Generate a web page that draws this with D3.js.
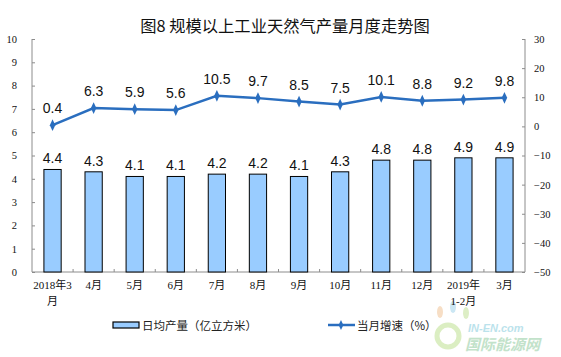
<!DOCTYPE html>
<html><head><meta charset="utf-8">
<script src="https://cdn.jsdelivr.net/npm/d3@7"></script>
<style>body{margin:0;background:#fff}svg{display:block}</style>
</head><body>
<svg id="c" width="561" height="357"></svg>
<script>
const categories = ["2018年3\n月","4月","5月","6月","7月","8月","9月","10月","11月","12月","2019年\n1-2月","3月"];
const dailyOutput = [4.4,4.3,4.1,4.1,4.2,4.2,4.1,4.3,4.8,4.8,4.9,4.9];
const growth = [0.4,6.3,5.9,5.6,10.5,9.7,8.5,7.5,10.1,8.8,9.2,9.8];
const leftTicks = [0,1,2,3,4,5,6,7,8,9,10];
const rightTicks = [-50,-40,-30,-20,-10,0,10,20,30];
const title = "图8\u00a0规模以上工业天然气产量月度走势图";
const legendBar = "日均产量（亿立方米）";
const legendLine = "当月增速（%）";

const svg = d3.select("#c");
const L = 32, R = 525, T = 39, B = 272;
const x = d3.scaleBand().domain(categories).range([L, R]).padding(0);
const yL = d3.scaleLinear().domain([0,10]).range([B, T]);
const yR = d3.scaleLinear().domain([-50,30]).range([B, T]);
const axisColor = "#8c8c8c";
const serif = "'Liberation Serif','Noto Sans CJK SC',serif";

// watermark (drawn first, underneath)
const wm = svg.append("g").attr("opacity",0.6);
wm.append("circle").attr("cx",448).attr("cy",336).attr("r",11).attr("fill","none").attr("stroke","#c4e39a").attr("stroke-width",5);
wm.append("ellipse").attr("cx",440).attr("cy",312).attr("rx",3).attr("ry",6).attr("fill","#f2c9a0");
wm.append("ellipse").attr("cx",453).attr("cy",307).attr("rx",3).attr("ry",6).attr("fill","#a9d8ee");
wm.append("ellipse").attr("cx",466).attr("cy",313).attr("rx",3).attr("ry",6).attr("fill","#c8e4a0");
wm.append("text").attr("x",468).attr("y",332).attr("font-family","'Liberation Sans',sans-serif")
  .attr("font-size",11).attr("font-style","italic").attr("font-weight","bold").attr("fill","#8fd0e0").text("IN-EN.com");
wm.append("text").attr("x",465).attr("y",350).attr("font-family","'Noto Sans CJK SC',sans-serif")
  .attr("font-size",15).attr("font-weight",700).attr("font-style","italic").attr("fill","#9ad0a8").text("国际能源网");

// title
svg.append("text").attr("x", 285).attr("y", 32).attr("text-anchor","middle")
  .attr("font-family","'Noto Sans CJK SC',sans-serif").attr("font-size",16.3).attr("font-weight",400)
  .attr("fill","#111").text(title);

// left axis
const gl = svg.append("g").attr("transform",`translate(${L},0)`)
  .call(d3.axisLeft(yL).tickValues(leftTicks).tickSize(-3).tickPadding(15).tickFormat(d3.format("d")));
// right axis
const gr = svg.append("g").attr("transform",`translate(${R},0)`)
  .call(d3.axisRight(yR).tickValues(rightTicks).tickSize(-3).tickPadding(9).tickFormat(d3.format("d")));
[gl, gr].forEach(g => {
  g.select(".domain").attr("stroke", axisColor);
  g.selectAll(".tick line").attr("stroke", axisColor);
  g.selectAll(".tick text").attr("font-family", serif).attr("font-size", 10.5).attr("fill","#111");
});
gl.select(".domain").attr("d", `M0,${T}V${B}`);
gr.select(".domain").attr("d", `M0,${T}V${B}`);

// x axis line + boundary ticks
const gx = svg.append("g");
gx.append("line").attr("x1",L).attr("x2",R).attr("y1",B).attr("y2",B).attr("stroke",axisColor);
gx.selectAll("line.bt").data(categories.slice(1)).enter().append("line")
  .attr("x1", d => x(d)).attr("x2", d => x(d)).attr("y1", B).attr("y2", B-3).attr("stroke", axisColor);
// x labels
gx.selectAll("text.xl").data(categories).enter().append("text")
  .attr("text-anchor","middle").attr("font-family",serif).attr("font-size",11).attr("fill","#111")
  .each(function(d){
    const lines = d.split("\n");
    const t = d3.select(this);
    lines.forEach((s,i)=> t.append("tspan").attr("x", x(d)+x.bandwidth()/2).attr("y", 289 + i*16).text(s));
  });

// bars
const bw = x.bandwidth()*0.42;
svg.append("g").selectAll("rect").data(dailyOutput).enter().append("rect")
  .attr("x", (d,i) => x(categories[i]) + x.bandwidth()/2 - bw/2)
  .attr("y", d => yL(d)).attr("width", bw).attr("height", d => B - yL(d))
  .attr("fill","#99ccff").attr("stroke","#000").attr("stroke-width",1);
svg.append("g").selectAll("text").data(dailyOutput).enter().append("text")
  .attr("x", (d,i) => x(categories[i]) + x.bandwidth()/2).attr("y", d => yL(d) - 6)
  .attr("text-anchor","middle").attr("font-family","'Liberation Sans',Arial,sans-serif")
  .attr("font-size",14).attr("fill","#111").text(d => d3.format(".1f")(d));

// line
const lineColor = "#2a6ebf";
const cx = i => x(categories[i]) + x.bandwidth()/2;
svg.append("path").datum(growth)
  .attr("d", d3.line().x((d,i)=>cx(i)).y(d=>yR(d)))
  .attr("fill","none").attr("stroke",lineColor).attr("stroke-width",2.5);
svg.append("g").selectAll("path").data(growth).enter().append("path")
  .attr("d", d3.symbol().type(d3.symbolDiamond).size(40))
  .attr("transform", (d,i) => `translate(${cx(i)},${yR(d)}) scale(0.8,1)`)
  .attr("fill", lineColor);
svg.append("g").selectAll("text").data(growth).enter().append("text")
  .attr("x", (d,i) => cx(i)).attr("y", d => yR(d) - 12)
  .attr("text-anchor","middle").attr("font-family","'Liberation Sans',Arial,sans-serif")
  .attr("font-size",14).attr("fill","#111").text(d => d3.format(".1f")(d));

// legend
const lg = svg.append("g");
lg.append("rect").attr("x",113).attr("y",322).attr("width",26).attr("height",6)
  .attr("fill","#99ccff").attr("stroke","#000").attr("stroke-width",1.2);
lg.append("text").attr("x",142).attr("y",330).attr("font-family","'Noto Sans CJK SC',sans-serif")
  .attr("font-size",11.5).attr("fill","#222").text(legendBar);
lg.append("line").attr("x1",328).attr("x2",355).attr("y1",325).attr("y2",325)
  .attr("stroke",lineColor).attr("stroke-width",2.5);
lg.append("path").attr("d", d3.symbol().type(d3.symbolDiamond).size(30))
  .attr("transform","translate(341,325) scale(0.8,1)").attr("fill",lineColor);
lg.append("text").attr("x",357).attr("y",330).attr("font-family","'Noto Sans CJK SC',sans-serif")
  .attr("font-size",11.5).attr("fill","#222").text(legendLine);
</script>
</body></html>
